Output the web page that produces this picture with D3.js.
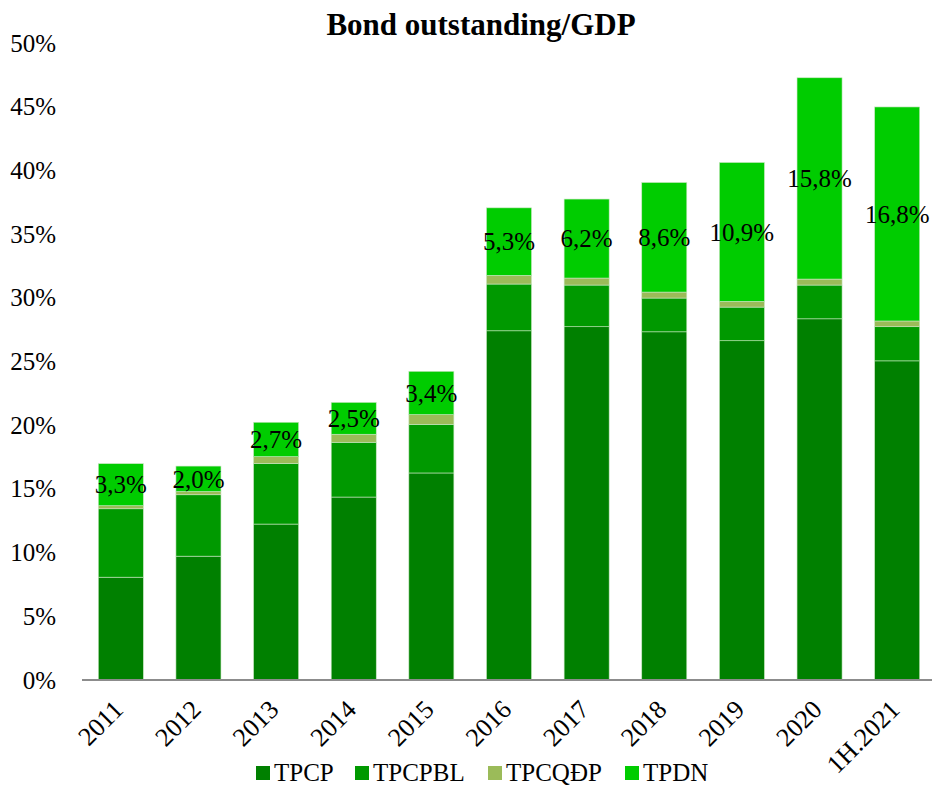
<!DOCTYPE html>
<html>
<head>
<meta charset="utf-8">
<script src="https://cdn.jsdelivr.net/npm/d3@7"></script>
<style>
  body { margin: 0; background: #fff; }
  text { font-family: "Liberation Serif", "Times New Roman", serif; }
</style>
</head>
<body>
<svg width="932" height="787"></svg>
<script>
const width = 932;
const height = 787;

const years = ["2011", "2012", "2013", "2014", "2015", "2016", "2017", "2018", "2019", "2020", "1H.2021"];
const tpcp = [8.07, 9.72, 12.24, 14.36, 16.25, 27.41, 27.73, 27.33, 26.63, 28.35, 25.05];
const tpcpbl = [5.37, 4.82, 4.76, 4.30, 3.82, 3.67, 3.27, 2.65, 2.64, 2.65, 2.68];
const tpcqdp = [0.24, 0.25, 0.53, 0.63, 0.76, 0.68, 0.55, 0.47, 0.45, 0.47, 0.45];
const tpdn = [3.3, 2.0, 2.7, 2.5, 3.4, 5.3, 6.2, 8.6, 10.9, 15.8, 16.8];
const tpdnLabels = ["3,3%", "2,0%", "2,7%", "2,5%", "3,4%", "5,3%", "6,2%", "8,6%", "10,9%", "15,8%", "16,8%"];
const yTicks = [0, 5, 10, 15, 20, 25, 30, 35, 40, 45, 50];

const seriesNames = ["TPCP", "TPCPBL", "TPCQĐP", "TPDN"];
const colors = ["#008000", "#009900", "#9bbb59", "#00cc00"];

const rows = years.map((y, i) => ({
  year: y,
  TPCP: tpcp[i],
  TPCPBL: tpcpbl[i],
  "TPCQĐP": tpcqdp[i],
  TPDN: tpdn[i],
  label: tpdnLabels[i]
}));

const svg = d3.select("svg");

const xScale = d3.scaleBand().domain(years).range([82, 936]).paddingInner(0.42).paddingOuter(0.21);
const yScale = d3.scaleLinear().domain([0, 50]).range([680, 43]);
const color = d3.scaleOrdinal().domain(seriesNames).range(colors);

const stacked = d3.stack().keys(seriesNames)(rows);

// title
svg.append("text")
  .attr("x", 481)
  .attr("y", 35)
  .attr("text-anchor", "middle")
  .style("font-size", "31px")
  .style("font-weight", "bold")
  .text("Bond outstanding/GDP");

// y axis labels only
const yAxis = svg.append("g")
  .attr("transform", "translate(60,0)")
  .call(d3.axisLeft(yScale).tickValues(yTicks).tickFormat(d => d + "%").tickSize(0).tickPadding(4));
yAxis.select(".domain").remove();
yAxis.selectAll("text").style("font-size", "25px").attr("fill", "#000");

// bars
svg.append("g")
  .selectAll("g")
  .data(stacked)
  .join("g")
  .attr("fill", d => color(d.key))
  .selectAll("rect")
  .data(d => d)
  .join("rect")
  .attr("x", d => xScale(d.data.year))
  .attr("width", xScale.bandwidth())
  .attr("y", d => yScale(d[1]))
  .attr("height", d => yScale(d[0]) - yScale(d[1]))
  .attr("stroke", "#c8e6c0")
  .attr("stroke-width", 0.6);

// TPDN labels
const dnLayer = stacked[3];
svg.append("g")
  .selectAll("text")
  .data(dnLayer)
  .join("text")
  .attr("x", d => xScale(d.data.year) + xScale.bandwidth() / 2)
  .attr("y", d => (yScale(d[0]) + yScale(d[1])) / 2)
  .attr("text-anchor", "middle")
  .attr("dy", "0.35em")
  .style("font-size", "25px")
  .text(d => d.data.label);

// x axis
const xAxis = svg.append("g")
  .attr("transform", "translate(0,680)")
  .call(d3.axisBottom(xScale).tickSize(0).tickPadding(0));
xAxis.select(".domain").attr("stroke", "#8c8c8c").attr("stroke-width", 2).attr("d", "M82,0H932");
xAxis.selectAll("text")
  .style("font-size", "26px")
  .attr("fill", "#000")
  .attr("text-anchor", "end")
  .attr("dy", null)
  .attr("y", 0)
  .attr("transform", "translate(4,31) rotate(-45)");

// legend
const legendX = [256, 355, 488, 625];
const legend = svg.append("g")
  .selectAll("g")
  .data(seriesNames)
  .join("g")
  .attr("transform", (d, i) => `translate(${legendX[i]},773)`);
legend.append("rect")
  .attr("x", 0)
  .attr("y", -7)
  .attr("width", 14)
  .attr("height", 14)
  .attr("fill", d => color(d));
legend.append("text")
  .attr("x", 18)
  .attr("y", 8)
  .style("font-size", "25px")
  .text(d => d);
</script>
</body>
</html>
